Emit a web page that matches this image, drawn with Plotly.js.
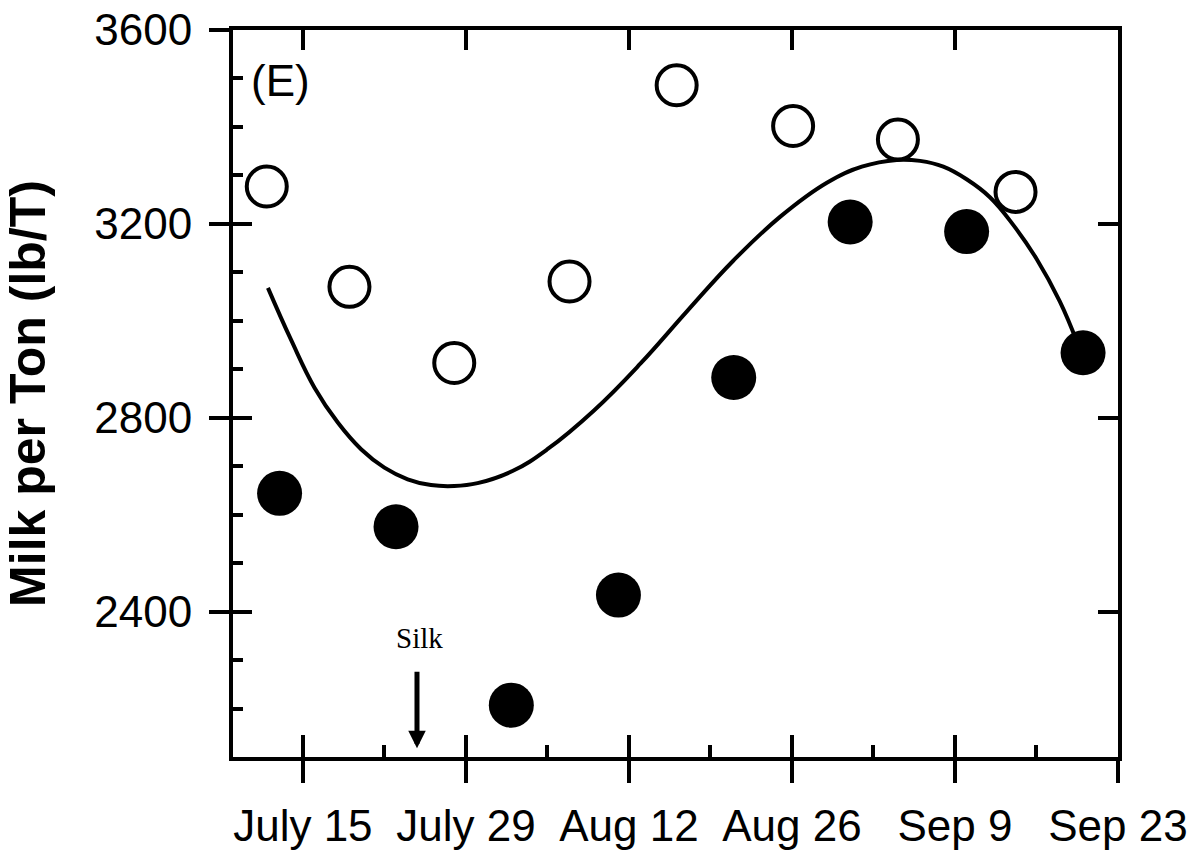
<!DOCTYPE html>
<html>
<head>
<meta charset="utf-8">
<script src="https://cdn.plot.ly/plotly-3.0.1.min.js"></script>
<style>html,body{margin:0;padding:0;background:#fff;}#chart{width:1199px;height:856px;}</style>
</head>
<body>
<div id="chart"></div>
<script>
// Day numbers counted from July 1 (July 15 = 15, Sep 23 = 85)
var tickDays = [15, 29, 43, 57, 71, 85];
var tickLabels = ['July 15', 'July 29', 'Aug 12', 'Aug 26', 'Sep 9', 'Sep 23'];
var minorDays = [22, 36, 50, 64, 78];
var yTickVals = [2400, 2800, 3200, 3600];
var yMinorVals = [2200, 2300, 2500, 2600, 2700, 2900, 3000, 3100, 3300, 3400, 3500];

var openDays = [11.9, 19, 28, 37.9, 47.1, 57.1, 66.1, 76.2];
var openVals = [3277, 3070, 2913, 3081, 3486, 3402, 3374, 3266];

var filledDays = [13, 23, 32.9, 42.1, 52, 62, 72, 82];
var filledVals = [2644, 2575, 2207, 2434, 2883, 3204, 3184, 2934];

var curveDays = [12, 14, 16, 18, 20, 22, 24, 26, 28, 30, 33, 36, 40, 44, 48, 52, 56, 60, 63, 66, 68, 70, 72, 74, 76, 78, 80, 81.5];
var curveVals = [3068, 2960, 2862, 2790, 2735, 2697, 2673, 2661, 2659, 2665, 2690, 2735, 2815, 2912, 3020, 3125, 3215, 3285, 3318, 3332, 3330, 3318, 3292, 3255, 3198, 3128, 3040, 2955];

var silkDay = 24.8;

var sans = 'Liberation Sans, Arial, sans-serif';
var xr = [9, 85], yr = [2100, 3600];

var traces = [
  {x: curveDays, y: curveVals, mode: 'lines', line: {color: '#000', width: 4, shape: 'spline', smoothing: 1.2}, hoverinfo: 'skip', showlegend: false},
  {x: openDays, y: openVals, mode: 'markers', marker: {symbol: 'circle', size: 40, color: '#fff', line: {color: '#000', width: 4}}, showlegend: false},
  {x: filledDays, y: filledVals, mode: 'markers', marker: {symbol: 'circle', size: 45, color: '#000', line: {width: 0}}, showlegend: false},
  {x: [], y: [], xaxis: 'x2', yaxis: 'y2', showlegend: false},
  {x: [], y: [], xaxis: 'x3', yaxis: 'y3', showlegend: false}
];

var layout = {
  width: 1199, height: 856,
  margin: {l: 233, r: 81, t: 30, b: 99},
  paper_bgcolor: '#fff', plot_bgcolor: '#fff',
  showlegend: false,
  xaxis: {
    range: xr, tickmode: 'array', tickvals: tickDays, ticktext: tickLabels,
    ticks: 'outside', ticklen: 22, tickwidth: 4, tickcolor: '#000',
    showline: true, linewidth: 4, linecolor: '#000', mirror: true,
    showgrid: false, zeroline: false, fixedrange: true, ticklabelstandoff: 5,
    tickfont: {family: sans, size: 44, color: '#000'}
  },
  yaxis: {
    range: yr, tickmode: 'array', tickvals: yTickVals,
    ticks: 'outside', ticklen: 20, tickwidth: 4, tickcolor: '#000',
    showline: true, linewidth: 4, linecolor: '#000', mirror: true,
    showgrid: false, zeroline: false, fixedrange: true, ticklabelstandoff: 8,
    tickfont: {family: sans, size: 44, color: '#000'},
    title: {text: 'Milk per Ton (lb/T)', font: {family: sans, size: 50, color: '#000', weight: 'bold'}, standoff: 42}
  },
  xaxis2: {
    overlaying: 'x', anchor: 'y2', side: 'bottom', range: xr,
    tickmode: 'array', tickvals: tickDays, showticklabels: false,
    ticks: 'inside', ticklen: 22, tickwidth: 4, tickcolor: '#000',
    minor: {tickmode: 'array', tickvals: minorDays, ticks: 'inside', ticklen: 12, tickwidth: 4, tickcolor: '#000'},
    showline: false, showgrid: false, zeroline: false, fixedrange: true
  },
  yaxis2: {
    overlaying: 'y', anchor: 'x2', side: 'left', range: yr,
    tickmode: 'array', tickvals: [2400, 2800, 3200], showticklabels: false,
    ticks: 'inside', ticklen: 19, tickwidth: 4, tickcolor: '#000',
    minor: {tickmode: 'array', tickvals: yMinorVals, ticks: 'inside', ticklen: 10, tickwidth: 4, tickcolor: '#000'},
    showline: false, showgrid: false, zeroline: false, fixedrange: true
  },
  xaxis3: {
    overlaying: 'x', anchor: 'y3', side: 'top', range: xr,
    tickmode: 'array', tickvals: [15, 29, 43, 57, 71], showticklabels: false,
    ticks: 'inside', ticklen: 20, tickwidth: 4, tickcolor: '#000',
    showline: false, showgrid: false, zeroline: false, fixedrange: true
  },
  yaxis3: {
    overlaying: 'y', anchor: 'x3', side: 'right', range: yr,
    tickmode: 'array', tickvals: [2400, 2800, 3200], showticklabels: false,
    ticks: 'inside', ticklen: 20, tickwidth: 4, tickcolor: '#000',
    showline: false, showgrid: false, zeroline: false, fixedrange: true
  },
  annotations: [
    {x: 13.1, y: 3495, xref: 'x', yref: 'y', text: '(E)', showarrow: false, font: {family: sans, size: 44, color: '#000'}},
    {x: silkDay + 0.2, y: 2345, xref: 'x', yref: 'y', text: 'Silk', showarrow: false, font: {family: 'Liberation Serif, Times New Roman, serif', size: 29, color: '#000'}},
    {x: silkDay, y: 2118, xref: 'x', yref: 'y', text: '', showarrow: true, ax: 0, ay: -78, arrowhead: 2, arrowsize: 0.7, arrowwidth: 5, arrowcolor: '#000', standoff: 0}
  ]
};

Plotly.newPlot('chart', traces, layout, {staticPlot: true, displayModeBar: false});
</script>
</body>
</html>
